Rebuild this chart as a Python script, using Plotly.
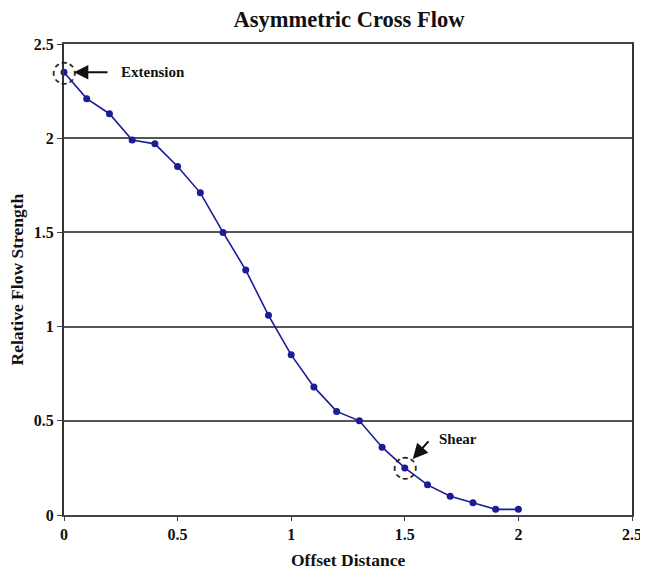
import plotly.graph_objects as go

offset = [0.0, 0.1, 0.2, 0.3, 0.4, 0.5, 0.6, 0.7, 0.8, 0.9, 1.0,
          1.1, 1.2, 1.3, 1.4, 1.5, 1.6, 1.7, 1.8, 1.9, 2.0]
strength = [2.35, 2.21, 2.13, 1.99, 1.97, 1.85, 1.71, 1.50, 1.30, 1.06, 0.85,
            0.68, 0.55, 0.50, 0.36, 0.25, 0.16, 0.10, 0.065, 0.03, 0.03]
x_ticks = [0, 0.5, 1, 1.5, 2, 2.5]
y_ticks = [0, 0.5, 1, 1.5, 2, 2.5]
ext_idx = 0
shear_idx = 15

FONT = "Liberation Serif"
NAVY = "#1c1c96"

fig = go.Figure()
fig.add_trace(go.Scatter(
    x=offset, y=strength, mode="lines+markers",
    line=dict(color=NAVY, width=1.6),
    marker=dict(color=NAVY, size=7),
    showlegend=False, cliponaxis=False,
))

# dotted rings around the highlighted points
for idx in (ext_idx, shear_idx):
    fig.add_annotation(x=offset[idx], y=strength[idx], text="\u25cc",
                       showarrow=False, xanchor="center", yanchor="middle",
                       yshift=2,
                       font=dict(family="DejaVu Sans", size=30, color="#222"))

# Extension arrow + label
fig.add_annotation(x=offset[ext_idx], y=strength[ext_idx], ax=45, ay=0,
                   text="", showarrow=True, arrowhead=2, arrowsize=1.3,
                   arrowwidth=2.2, arrowcolor="#111", standoff=10)
fig.add_annotation(x=offset[ext_idx], y=strength[ext_idx], xshift=55,
                   text="<b>Extension</b>", showarrow=False, xanchor="left",
                   font=dict(family=FONT, size=15, color="#111"))
# Shear arrow + label
fig.add_annotation(x=offset[shear_idx], y=strength[shear_idx], ax=25, ay=-28,
                   text="", showarrow=True, arrowhead=2, arrowsize=1.5,
                   arrowwidth=2, arrowcolor="#111", standoff=12)
fig.add_annotation(x=offset[shear_idx], y=strength[shear_idx], xshift=32, yshift=29,
                   text="<b>Shear</b>", showarrow=False, xanchor="left",
                   font=dict(family=FONT, size=15, color="#111"))

# axis titles
fig.add_annotation(xref="paper", yref="paper", x=0.5, y=0, yshift=-45,
                   text="<b>Offset Distance</b>", showarrow=False,
                   xanchor="center", yanchor="middle",
                   font=dict(family=FONT, size=17.5, color="#111"))
fig.add_annotation(xref="paper", yref="paper", x=0, y=0.5, xshift=-48,
                   text="<b>Relative Flow Strength</b>", showarrow=False,
                   textangle=-90, xanchor="center", yanchor="middle",
                   font=dict(family=FONT, size=17.5, color="#111"))

fig.update_layout(
    width=641, height=563,
    margin=dict(l=56, r=17, t=36, b=56),
    paper_bgcolor="white", plot_bgcolor="white",
    font=dict(family=FONT, color="#111"),
    title=dict(text="<b>Asymmetric Cross Flow</b>", x=0.532, xanchor="center",
               y=0.980, yanchor="middle", font=dict(family=FONT, size=22.5)),
    xaxis=dict(range=[0, 2.5], tickvals=x_ticks,
               ticktext=["<b>%g</b>" % v for v in x_ticks],
               showgrid=False, zeroline=False, showline=True, mirror=True,
               linecolor="#444", linewidth=2, ticks="outside", ticklen=4,
               tickcolor="#444", tickfont=dict(family=FONT, size=16),
               automargin=False),
    yaxis=dict(range=[0, 2.5], tickvals=y_ticks,
               ticktext=["<b>%g</b>" % v for v in y_ticks],
               showgrid=True, gridcolor="#555", gridwidth=2, zeroline=False,
               showline=True, mirror=True, linecolor="#333", linewidth=2,
               ticks="outside", ticklen=5, tickcolor="#444",
               tickfont=dict(family=FONT, size=16), automargin=False),
)

fig.write_html("out.html")
